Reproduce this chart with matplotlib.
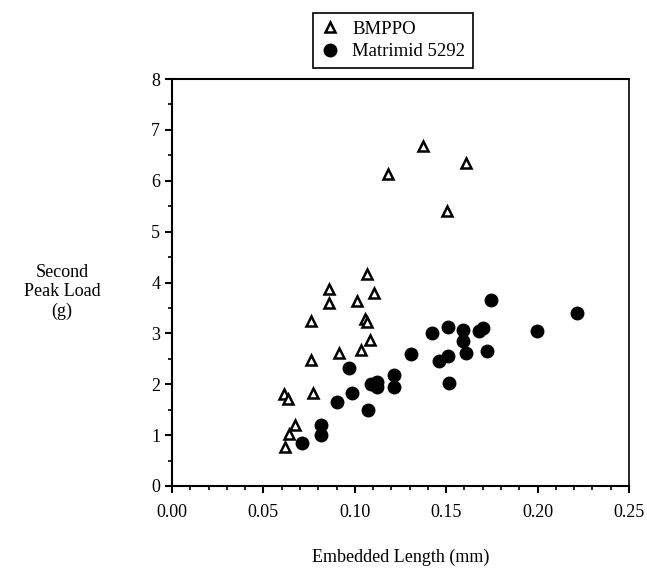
import matplotlib
matplotlib.use("Agg")
import matplotlib.pyplot as plt
from matplotlib.ticker import MultipleLocator, FormatStrFormatter

plt.rcParams['font.family'] = ['Liberation Serif', 'DejaVu Serif']

# BMPPO (open triangles)
bmppo_x = [0.0618, 0.0642, 0.0673, 0.0614, 0.0633, 0.0770, 0.0760, 0.0760,
           0.0861, 0.0861, 0.0914, 0.1014, 0.1034, 0.1054, 0.1068, 0.1068,
           0.1105, 0.1085, 0.1182, 0.1371, 0.1608, 0.1503]
bmppo_y = [0.77, 1.02, 1.20, 1.81, 1.71, 1.82, 2.48, 3.24,
           3.59, 3.87, 2.61, 3.64, 2.67, 3.28, 3.23, 4.17,
           3.80, 2.87, 6.13, 6.68, 6.34, 5.41]

# Matrimid 5292 (filled circles)
matrimid_x = [0.0711, 0.0813, 0.0813, 0.0901, 0.0967, 0.0986, 0.1074, 0.1090,
              0.1120, 0.1120, 0.1213, 0.1213, 0.1745, 0.2214, 0.1995, 0.1512,
              0.1424, 0.1590, 0.1590, 0.1679, 0.1703, 0.1608, 0.1722, 0.1306,
              0.1512, 0.1462, 0.1517]
matrimid_y = [0.84, 1.19, 1.00, 1.65, 2.31, 1.83, 1.49, 2.00,
              2.04, 1.95, 2.18, 1.94, 3.66, 3.41, 3.04, 3.13,
              3.00, 3.07, 2.85, 3.05, 3.10, 2.62, 2.66, 2.59,
              2.56, 2.46, 2.02]

fig = plt.figure(figsize=(6.47, 5.72), dpi=100)
ax = fig.add_axes([172 / 647, 1 - 486 / 572, (629 - 172) / 647, (486 - 79) / 572])

ax.plot(bmppo_x, bmppo_y, linestyle='none', marker='^', markersize=7,
        markerfacecolor='white', markeredgecolor='black', markeredgewidth=1.8,
        label='BMPPO')
ax.plot(matrimid_x, matrimid_y, linestyle='none', marker='o', markersize=9,
        color='black', label='Matrimid 5292')

ax.set_xlim(0, 0.25)
ax.set_ylim(0, 8)
ax.xaxis.set_major_locator(MultipleLocator(0.05))
ax.xaxis.set_minor_locator(MultipleLocator(0.01))
ax.xaxis.set_major_formatter(FormatStrFormatter('%.2f'))
ax.yaxis.set_major_locator(MultipleLocator(1))
ax.yaxis.set_minor_locator(MultipleLocator(0.5))

for s in ax.spines.values():
    s.set_linewidth(1.5)
ax.spines['right'].set_linewidth(1.2)
ax.tick_params(which='major', direction='out', length=5, width=1.5,
               labelsize=13, top=False, right=False)
ax.tick_params(which='minor', direction='out', length=3, width=1.2,
               top=False, right=False)
ax.tick_params(axis='x', pad=8)

ax.set_xlabel('Embedded Length (mm)', fontsize=13, labelpad=20)
fig.text(62 / 647, 1 - 292 / 572, 'Second\nPeak Load\n(g)', fontsize=13,
         ha='center', va='center', multialignment='center', linespacing=1.15)

leg = fig.legend(loc='upper left', bbox_to_anchor=(313 / 647, 1 - 13 / 572),
                 fontsize=13.5, frameon=True, fancybox=False, edgecolor='black',
                 framealpha=1, borderpad=0.4, handletextpad=0.7, labelspacing=0.3,
                 handlelength=1.0, borderaxespad=0)
leg.get_frame().set_linewidth(1.2)

fig.savefig('out.png', dpi=100)
